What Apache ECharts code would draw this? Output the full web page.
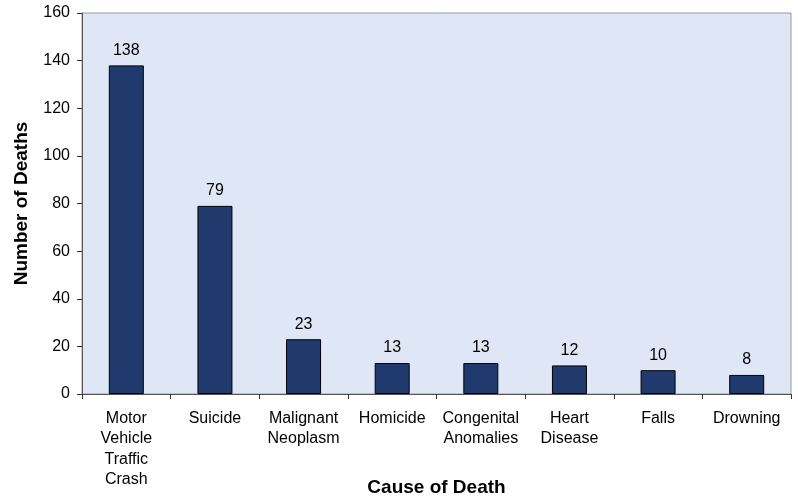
<!DOCTYPE html>
<html><head><meta charset="utf-8">
<script src="https://cdn.jsdelivr.net/npm/echarts@6/dist/echarts.min.js"></script>
<style>html,body{margin:0;padding:0;background:#fff}#c{width:798px;height:496px}</style>
</head><body><div id="c"></div>
<script>
const categories = ["Motor\nVehicle\nTraffic\nCrash","Suicide","Malignant\nNeoplasm","Homicide","Congenital\nAnomalies","Heart\nDisease","Falls","Drowning"];
const deaths = [138,79,23,13,13,12,10,8];
const yTicks = {min:0,max:160,interval:20};

const chart = echarts.init(document.getElementById('c'));
chart.setOption({
  animation:false,
  textStyle:{fontFamily:'Liberation Sans, Arial'},
  grid:{left:82,right:7,top:13,bottom:102,outerBoundsMode:'none',containLabel:false,show:true,backgroundColor:'#dfe6f5',borderColor:'#9a9a9a',borderWidth:1},
  xAxis:{type:'category',data:categories,
    name:'Cause of Death',nameLocation:'middle',nameGap:84,nameMoveOverlap:false,
    nameTextStyle:{fontSize:19,fontWeight:'bold',color:'#000'},
    axisLine:{lineStyle:{color:'#555',width:1}},
    axisTick:{show:true,alignWithLabel:false,length:5,lineStyle:{color:'#333'}},
    axisLabel:{color:'#000',fontSize:16,lineHeight:20.5,margin:14,interval:0}},
  yAxis:{type:'value',min:yTicks.min,max:yTicks.max,interval:yTicks.interval,
    name:'Number of Deaths',nameLocation:'middle',nameGap:51,nameMoveOverlap:false,
    nameTextStyle:{fontSize:19,fontWeight:'bold',color:'#000'},
    axisLine:{show:true,lineStyle:{color:'#555',width:1}},
    axisTick:{show:true,length:5,lineStyle:{color:'#333'}},
    splitLine:{show:false},
    axisLabel:{color:'#000',fontSize:16,margin:12}},
  series:[{type:'bar',data:deaths,barWidth:35,
    itemStyle:{color:'#213a6e',borderColor:'#000',borderWidth:1},
    label:{show:true,position:'top',color:'#000',fontSize:16,distance:7}}]
});
</script></body></html>
